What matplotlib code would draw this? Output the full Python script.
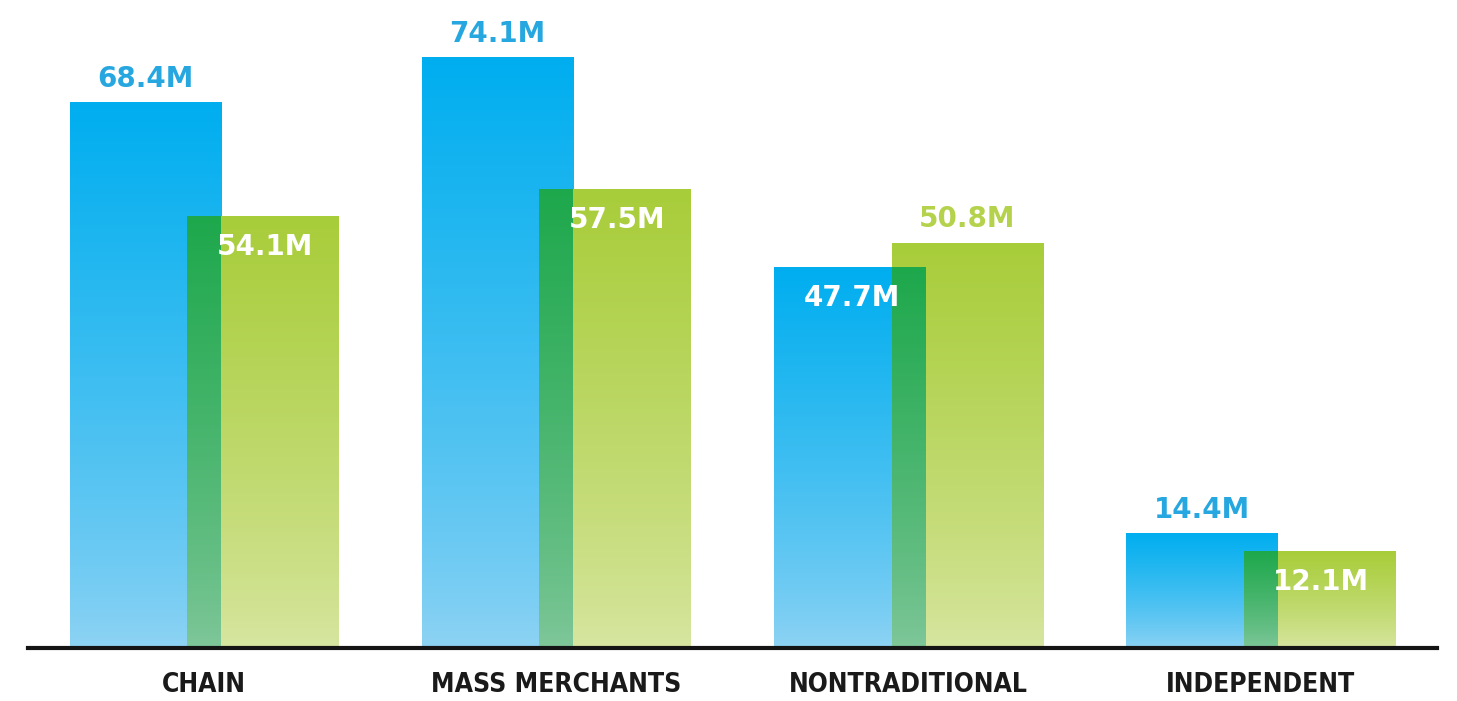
import matplotlib.pyplot as plt
import numpy as np
from matplotlib.colors import LinearSegmentedColormap

categories = ['CHAIN', 'MASS MERCHANTS', 'NONTRADITIONAL', 'INDEPENDENT']
blue_vals = [68.4, 74.1, 47.7, 14.4]
green_vals = [54.1, 57.5, 50.8, 12.1]

BLUE_TOP, BLUE_BOT = '#00aeef', '#8fd3f4'
GREEN_TOP, GREEN_BOT = '#a8cd3a', '#d8e6a2'
MIX_TOP, MIX_BOT = '#1ea84c', '#80c79a'
BLUE_TXT, GREEN_TXT = '#27a7df', '#b5d24c'

width = 0.43
offset = 0.167

fig = plt.figure(figsize=(14.57, 7.01), dpi=100)
ax = fig.add_axes([0.0192, 0.0756, 0.967, 0.9096])

grad = np.linspace(0, 1, 256).reshape(-1, 1) ** 0.8


def grad_bar(x0, x1, h, bot, top, z):
    cmap = LinearSegmentedColormap.from_list('g', [bot, top])
    ax.imshow(grad, extent=(x0, x1, 0, h), origin='lower', cmap=cmap,
              aspect='auto', zorder=z, interpolation='bicubic')


for i, (b, g) in enumerate(zip(blue_vals, green_vals)):
    bx0, bx1 = i - offset - width / 2, i - offset + width / 2
    gx0, gx1 = i + offset - width / 2, i + offset + width / 2
    grad_bar(bx0, bx1, b, BLUE_BOT, BLUE_TOP, 2)
    grad_bar(gx0, gx1, g, GREEN_BOT, GREEN_TOP, 2)
    # darker band where the two bars overlap
    grad_bar(gx0, bx1, min(b, g), MIX_BOT, MIX_TOP, 3)

    # taller bar gets its label on top, the shorter one inside
    for x, v, col, taller in [(i - offset, b, BLUE_TXT, b >= g),
                              (i + offset, g, GREEN_TXT, g > b)]:
        if taller:
            ax.annotate(f'{v}M', (x, v), xytext=(0, 7), textcoords='offset points',
                        ha='center', va='bottom', color=col, fontsize=20,
                        fontweight='bold', zorder=5)
        else:
            ax.annotate(f'{v}M', (x + 0.005, v), xytext=(0, -12),
                        textcoords='offset points', ha='center', va='top',
                        color='white', fontsize=20, fontweight='bold', zorder=5)

ax.set_xlim(-0.5, 3.5)
ax.set_ylim(0, 80)
ax.set_xticks(range(len(categories)))
ax.set_xticklabels(categories, fontsize=19, fontweight='bold', color='#1a1a1a',
                   fontstretch='condensed',
                   family=['Liberation Sans Narrow', 'DejaVu Sans'])
ax.tick_params(axis='x', length=0, pad=17)
ax.set_yticks([])
for s in ['top', 'left', 'right']:
    ax.spines[s].set_visible(False)
ax.spines['bottom'].set_linewidth(3)
ax.spines['bottom'].set_color('#141414')
ax.spines['bottom'].set_zorder(6)

fig.savefig('out.png', dpi=100)
